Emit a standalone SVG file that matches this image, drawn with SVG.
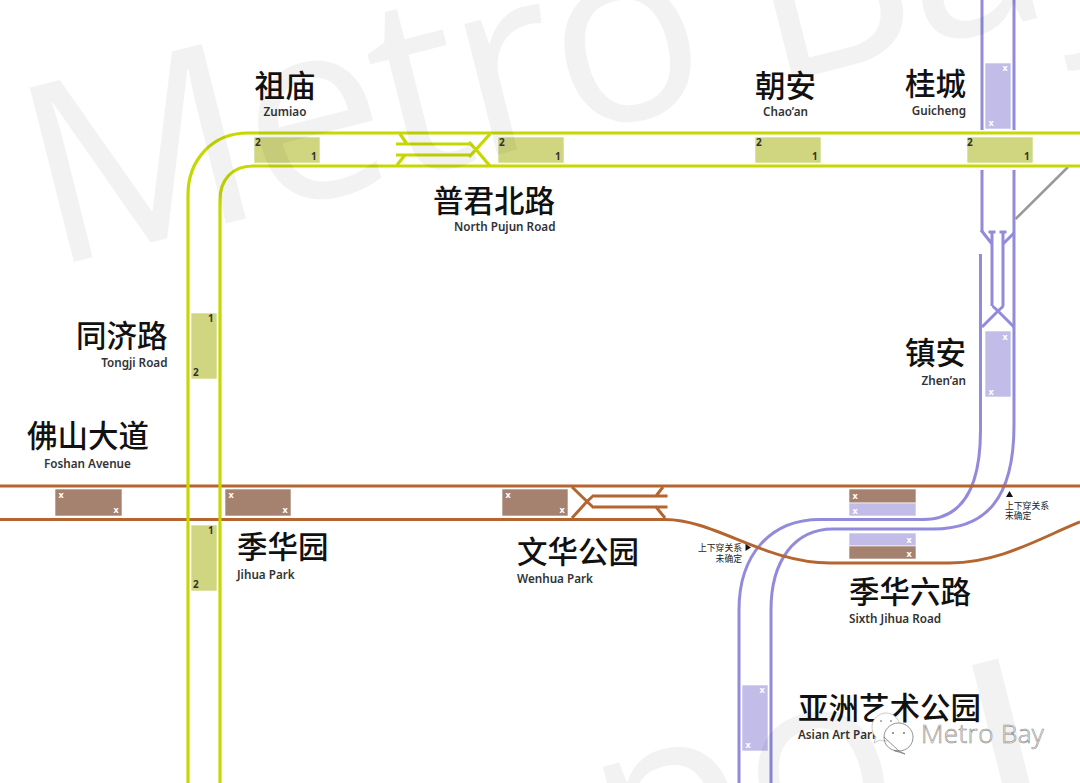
<svg xmlns="http://www.w3.org/2000/svg" width="1080" height="783" viewBox="0 0 1080 783">
<style>
text{font-family:"Noto Sans","Noto Sans CJK SC",sans-serif}
.wm{font-family:"Open Sans",sans-serif;font-size:252px;font-weight:500;fill:#000;fill-opacity:.05}
.zh{font-family:"Noto Sans CJK SC",sans-serif;font-size:30.5px;font-weight:500;fill:#111}
.en{font-size:11.7px;font-weight:600;fill:#333}
.e{text-anchor:end}.m{text-anchor:middle}
.note{font-family:"Noto Sans CJK SC",sans-serif;font-size:8.8px;fill:#222}
.n{font-size:10px;font-weight:700;fill:#333}
.x{font-size:9px;font-weight:700;fill:#fff;text-anchor:middle}
.pg{fill:#d0d67f;stroke:#fff;stroke-width:.6}.pb{fill:#a58270;stroke:#fff;stroke-width:.6}.pp{fill:#c2bde8;stroke:#fff;stroke-width:.6}
.g,.b,.v{fill:none}
.g{stroke:#c6d800;stroke-width:3.2}.b{stroke:#b5652f;stroke-width:3}.v{stroke:#928bdc;stroke-width:3}
</style>
<rect width="1080" height="783" fill="#fff"/>
<g id="connectors">
<path class="v" d="M982 0V130M1014 0V130"/>
<path class="v" d="M982 170V231M1014 170V425C1014 500 985 529 933 529H833C795 529 771 560 771 610V783M980.500 254V430Q980.500 519.500 923 519.500H820C770 519.500 739 555 739 610V783"/>
<path class="v" stroke-width="2.400" d="M981 230L992 244M1014 233L1003 244M992 232V306M1003 232V306M982 327L998 311L1003.500 306M1014 327L998 311L992.500 306M988.500 232H995.500M999.500 232H1006.500"/>
<path d="M1015.500 219L1068 167" fill="none" stroke="#999" stroke-width="2.500"/>
<path class="b" d="M0 486H1080M0 519.500H665C715 519.500 765 563 830 563H950C1000 563 1040 538 1080 522"/>
<path class="b" stroke-width="2.300" d="M572 487L587 501.500L594 508M572 518L587 501.500L594 495M594 496H667.500M594 507H667.500M663 487L656 496M656 507L665 518"/>
<path class="g" d="M1080 133H248C212 133 188 160 188 195V783M1080 166H253C232 166 220 180 220 200V783"/>
<path class="g" stroke-width="2.300" d="M490 134L476 149.500L469 157M490 166L476 149.500L469 142M396 144H470M396 155H470M400 134L407 144M397 165L405 155"/>
</g>
<g id="zumiao"><rect class="pg" x="254" y="137" width="66" height="26"/><text class="n" x="255" y="146">2</text><text class="n" x="311" y="160">1</text><text class="zh m" x="285" y="97">祖庙</text><text class="en m" x="285" y="116">Zumiao</text></g>
<g id="north-pujun-road"><rect class="pg" x="498" y="137" width="66" height="26"/><text class="n" x="499" y="146">2</text><text class="n" x="555" y="160">1</text><text class="zh" x="433" y="212">普君北路</text><text class="en e" x="555.500" y="231">North Pujun Road</text></g>
<g id="chaoan"><rect class="pg" x="755" y="137" width="66" height="26"/><text class="n" x="756" y="146">2</text><text class="n" x="812" y="160">1</text><text class="zh m" x="785.500" y="97">朝安</text><text class="en m" x="785.500" y="116">Chao’an</text></g>
<g id="guicheng"><rect class="pg" x="967" y="137" width="66" height="26"/><text class="n" x="967" y="146">2</text><text class="n" x="1024" y="160">1</text><rect class="pp" x="985" y="63" width="26" height="66"/><text class="x" x="1005" y="71">x</text><text class="x" x="991" y="126">x</text><text class="zh e" x="966" y="95">桂城</text><text class="en e" x="966" y="115">Guicheng</text></g>
<g id="tongji-road"><rect class="pg" x="191" y="313" width="26" height="66"/><text class="n" x="208" y="322">1</text><text class="n" x="193" y="376">2</text><text class="zh e" x="167.500" y="347">同济路</text><text class="en e" x="167.500" y="367">Tongji Road</text></g>
<g id="foshan-avenue"><rect class="pb" x="55" y="489" width="67" height="27"/><text class="x" x="61" y="498">x</text><text class="x" x="116" y="513">x</text><text class="zh" x="27" y="447">佛山大道</text><text class="en" x="44" y="468">Foshan Avenue</text></g>
<g id="jihua-park"><rect class="pb" x="225" y="489" width="66" height="27"/><text class="x" x="231" y="498">x</text><text class="x" x="285" y="513">x</text><rect class="pg" x="191" y="525" width="26" height="66"/><text class="n" x="208" y="534">1</text><text class="n" x="193" y="588">2</text><text class="zh" x="237" y="558">季华园</text><text class="en" x="237" y="579">Jihua Park</text></g>
<g id="wenhua-park"><rect class="pb" x="502" y="489" width="66" height="27"/><text class="x" x="508" y="498">x</text><text class="x" x="562" y="513">x</text><text class="zh" x="517" y="563">文华公园</text><text class="en" x="517" y="583">Wenhua Park</text></g>
<g id="sixth-jihua-road"><rect class="pb" x="849" y="489" width="67" height="14"/><rect class="pp" x="849" y="503" width="67" height="13"/><text class="x" x="855" y="499">x</text><text class="x" x="855" y="514">x</text><rect class="pp" x="849" y="533" width="67" height="13"/><rect class="pb" x="849" y="546" width="67" height="13"/><text class="x" x="909" y="543">x</text><text class="x" x="909" y="557">x</text><text class="zh" x="849" y="603">季华六路</text><text class="en" x="849" y="623">Sixth Jihua Road</text></g>
<g id="zhenan"><rect class="pp" x="985" y="331" width="26" height="66"/><text class="x" x="1005" y="340">x</text><text class="x" x="991" y="395">x</text><text class="zh e" x="966" y="364">镇安</text><text class="en e" x="966" y="385">Zhen’an</text></g>
<g id="asian-art-park"><rect class="pp" x="742" y="685" width="26" height="66"/><text class="x" x="762" y="693">x</text><text class="x" x="748" y="748">x</text><text class="zh" x="798" y="719">亚洲艺术公园</text><text class="en" x="798" y="739">Asian Art Park</text></g>
<g id="notes">
<path d="M1006 497L1009.500 491L1013 497Z" fill="#111"/>
<text class="note" x="1005" y="508.500">上下穿关系</text><text class="note" x="1005" y="519">未确定</text>
<path d="M745.500 544L751 547.500L745.500 551Z" fill="#111"/>
<text class="note e" x="742" y="550.500">上下穿关系</text><text class="note e" x="742" y="561.500">未确定</text>
</g>
<g id="watermark">
<text class="wm" letter-spacing="-6" transform="translate(50 268) rotate(-14.200)">Metro Bay</text>
<text class="wm" transform="translate(436 948) rotate(-14.200)">e<tspan dx="43">p</tspan>o</text>
<rect x="972" y="665" width="27" height="170" fill="#000" fill-opacity=".05" transform="rotate(-14.200 972 665)"/>
</g>
<g id="logo">
<path d="M872 727C872 719 879 713 886 713C893 713 900 719 900 727C900 735 893 741 886 741C884 741 882 741 880 740L874 743L876 737C873 734 872 731 872 727Z" fill="#fff" stroke="#bbb" stroke-width=".8"/>
<path d="M884 737C884 730 890 723 898.500 723C907 723 913 730 913 737C913 745 907 751 898.500 751C897 751 895 751 894 750.500L905 754L899 751Z" fill="#fff" stroke="#777" stroke-width=".8"/>
<path d="M884 737C884 745 890 751 899 751" fill="none" stroke="#777" stroke-width=".8"/>
<circle cx="881" cy="721" r="1" fill="#999"/><circle cx="891" cy="721" r="1" fill="#999"/><circle cx="893" cy="733" r="1" fill="#777"/><circle cx="904" cy="733" r="1" fill="#777"/>
<text x="921" y="743" font-size="26" letter-spacing=".4" fill="#fff" stroke="#888" stroke-width=".6" style="font-family:'Open Sans',sans-serif;font-weight:300">Metro Bay</text>
</g>
</svg>
